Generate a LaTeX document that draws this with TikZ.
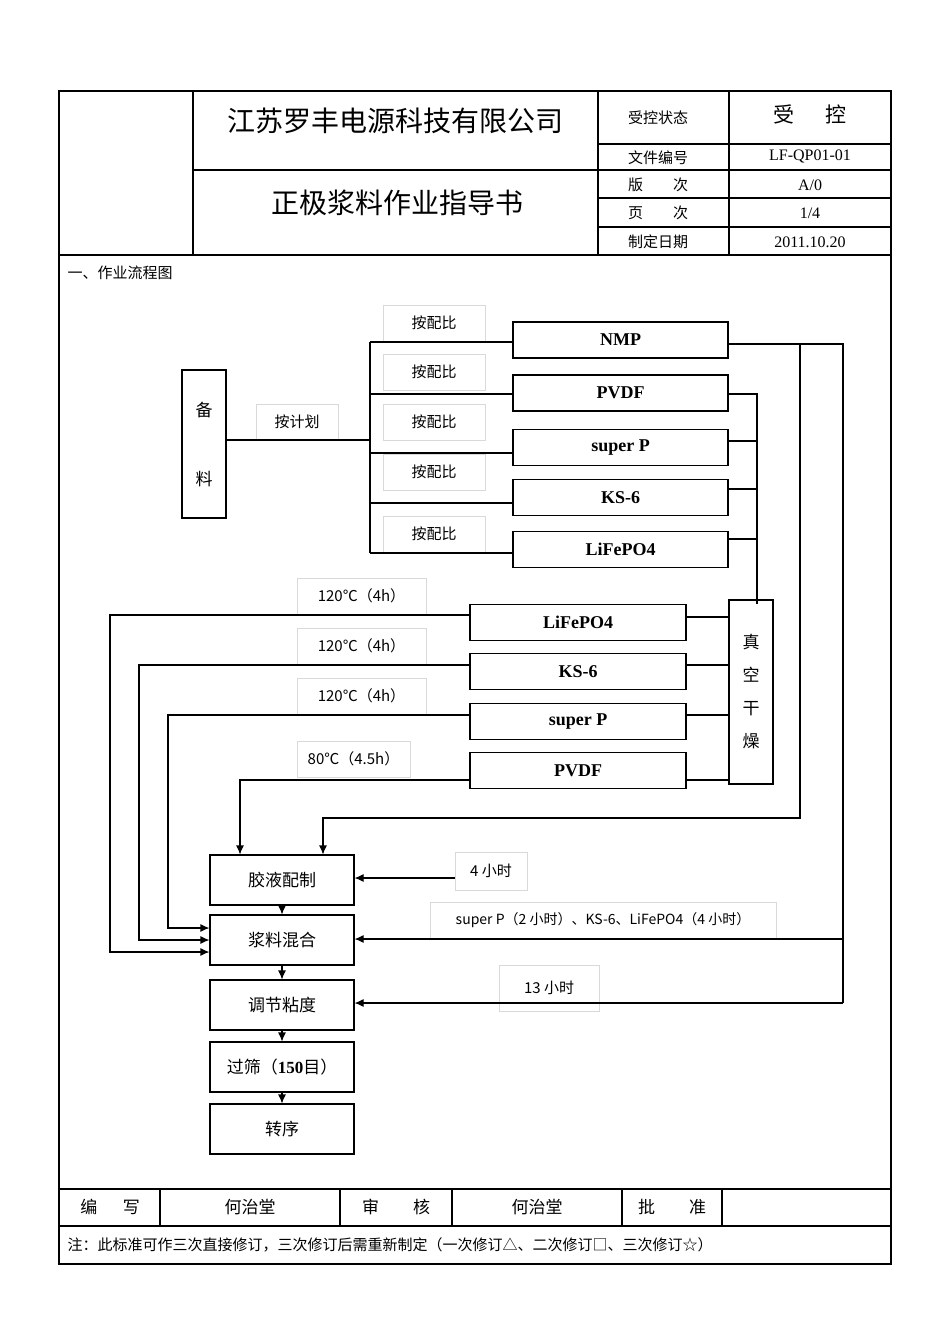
\documentclass[tikz,border=0pt]{standalone}
\usepackage{fontspec}
\setmainfont{Liberation Serif}
\newfontfamily\cjk{Noto Sans CJK SC}[Scale=1]
\usetikzlibrary{arrows.meta}
\begin{document}
\begin{tikzpicture}[x=1pt,y=-1pt,
  box/.style={draw,line width=1.1pt,minimum height=36pt,font=\fontsize{18}{18}\selectfont\bfseries,inner sep=0},
  sbox/.style={draw,line width=1.1pt,minimum width=144pt,minimum height=50pt,font=\cjk\fontsize{17}{17}\selectfont,inner sep=0},
  lab/.style={draw=black!15,line width=0.6pt,font=\cjk\fontsize{15}{15}\selectfont,inner sep=0},
  ln/.style={line width=1.1pt},
  ar/.style={line width=1.1pt,-{Latex[length=9pt,width=8pt]}},
  hd/.style={font=\cjk\fontsize{15}{15}\selectfont},
  hdl/.style={font=\fontsize{16}{16}\selectfont}]
\useasboundingbox (0,0) rectangle (950,1344);
% header frame
\draw[line width=1.4pt] (59,91) rectangle (891,1264);
\draw[line width=1.2pt] (59,255) -- (891,255);
\draw[ln] (193,91) -- (193,255);
\draw[ln] (598,91) -- (598,255);
\draw[ln] (729,91) -- (729,255);
\draw[ln] (193,170) -- (598,170);
\draw[ln] (598,144) -- (891,144);
\draw[line width=1.6pt] (598,170) -- (891,170);
\draw[line width=1.6pt] (598,198) -- (891,198);
\draw[ln] (598,227) -- (891,227);
\node[font=\cjk\fontsize{28}{28}\selectfont] (t1) at (395,121) {江苏罗丰电源科技有限公司};
\node[font=\cjk\fontsize{28}{28}\selectfont] (t2) at (397,203) {正极浆料作业指导书};
\node[hd] (h1) at (658,118) {受控状态};
\node[font=\cjk\fontsize{21}{21}\selectfont] (h1v) at (810,114) {受\hspace{1.5em}控};
\node[hd] (h2) at (658,158) {文件编号};
\node[hdl] (h2v) at (810,156) {LF-QP01-01};
\node[hd] (h3) at (658,185) {版\hspace{2em}次};
\node[hdl] (h3v) at (810,185) {A/0};
\node[hd] (h4) at (658,213) {页\hspace{2em}次};
\node[hdl] (h4v) at (810,213) {1/4};
\node[hd] (h5) at (658,242) {制定日期};
\node[hdl] (h5v) at (810,242) {2011.10.20};
\node[hd,anchor=west] (sec) at (64,273) {一、作业流程图};
% footer
\draw[line width=1.4pt] (59,1189) -- (891,1189);
\draw[ln] (59,1226) -- (891,1226);
\foreach \x in {160,340,452,622,722} \draw[ln] (\x,1189) -- (\x,1226);
\node[font=\cjk\fontsize{17}{17}\selectfont] (f1) at (110,1207) {编\hspace{1.5em}写};
\node[font=\cjk\fontsize{17}{17}\selectfont] (f2) at (250,1207) {何治堂};
\node[font=\cjk\fontsize{17}{17}\selectfont] (f3) at (396,1207) {审\hspace{2em}核};
\node[font=\cjk\fontsize{17}{17}\selectfont] (f4) at (537,1207) {何治堂};
\node[font=\cjk\fontsize{17}{17}\selectfont] (f5) at (672,1207) {批\hspace{2em}准};
\node[hd,anchor=west] (note) at (64,1245) {注：此标准可作三次直接修订，三次修订后需重新制定（一次修订△、二次修订□、三次修订☆）};
% left stage
\node[draw,line width=1.1pt,minimum width=44pt,minimum height=148pt,inner sep=0,font=\cjk\fontsize{17}{17}\selectfont,align=center] (bl) at (204,444) {备\\[52pt]料};
\node[lab,minimum width=82pt,minimum height=36pt] (jh) at (297,422) {按计划};
\coordinate (v0) at (370,440);
\draw[ln] (bl.east |- v0) -- (v0);
\draw[ln] (370,342) -- (370,553);
\foreach \y in {323,372,422,472,534} \node[lab,minimum width=102pt,minimum height=36pt] at (434,\y) {按配比};
\node[box,minimum width=215pt] (a1) at (620.5,340) {NMP};
\node[box,minimum width=215pt] (a2) at (620.5,393) {PVDF};
\node[box,minimum width=215pt] (a3) at (620.5,447.5) {super P};
\node[box,minimum width=215pt] (a4) at (620.5,497.5) {KS-6};
\node[box,minimum width=215pt] (a5) at (620.5,549.5) {LiFePO4};
\draw[ln] (370,342) -- (a1.west |- 0,342);
\draw[ln] (370,394) -- (a2.west |- 0,394);
\draw[ln] (370,453) -- (a3.west |- 0,453);
\draw[ln] (370,503) -- (a4.west |- 0,503);
\draw[ln] (370,553) -- (a5.west |- 0,553);
% vacuum dryer
\node[draw,line width=1.1pt,minimum width=44pt,minimum height=184pt,inner sep=0,font=\cjk\fontsize{17}{17}\selectfont,align=center] (vd) at (751,692) {真\\[16pt]空\\[16pt]干\\[16pt]燥};
\draw[ln] (a2.east |- 0,394) -- (757,394) -- (757,604);
\draw[ln] (a3.east |- 0,441) -- (757,441);
\draw[ln] (a4.east |- 0,489) -- (757,489);
\draw[ln] (a5.east |- 0,539) -- (757,539);
\node[box,minimum width=216pt] (b1) at (578,622.5) {LiFePO4};
\node[box,minimum width=216pt] (b2) at (578,671.5) {KS-6};
\node[box,minimum width=216pt] (b3) at (578,721.5) {super P};
\node[box,minimum width=216pt] (b4) at (578,770.5) {PVDF};
\foreach \b/\y in {b1/617,b2/665,b3/715,b4/780} \draw[ln] (\b.east |- 0,\y) -- (vd.west |- 0,\y);
\node[lab,minimum width=129pt,minimum height=36pt] at (361.5,596) {120℃（4h）};
\node[lab,minimum width=129pt,minimum height=36pt] at (361.5,646) {120℃（4h）};
\node[lab,minimum width=129pt,minimum height=36pt] at (361.5,696) {120℃（4h）};
\node[lab,minimum width=113pt,minimum height=36pt] at (353.5,759) {80℃（4.5h）};
% bottom chain
\node[sbox] (c1) at (282,880) {胶液配制};
\node[sbox] (c2) at (282,940) {浆料混合};
\node[sbox] (c3) at (282,1005) {调节粘度};
\node[sbox] (c4) at (282,1067) {过筛（{\rmfamily\bfseries 150}目）};
\node[sbox] (c5) at (282,1129) {转序};
\draw[ar] (c1) -- (c2);
\draw[ar] (c2) -- (c3);
\draw[ar] (c3) -- (c4);
\draw[ar] (c4) -- (c5);
\draw[ar] (b1.west |- 0,615) -- (110,615) -- (110,952) -- (c2.west |- 0,952);
\draw[ar] (b2.west |- 0,665) -- (139,665) -- (139,940) -- (c2.west |- 0,940);
\draw[ar] (b3.west |- 0,715) -- (168,715) -- (168,928) -- (c2.west |- 0,928);
\coordinate (p240) at (240,0);
\draw[ar] (b4.west |- 0,780) -- (240,780) -- (p240 |- c1.north);
% NMP route
\draw[ln] (a1.east |- 0,344) -- (843,344) -- (843,1003);
\coordinate (p323) at (323,0);
\draw[ar] (800,344) -- (800,818) -- (323,818) -- (p323 |- c1.north);
\node[lab,minimum width=72pt,minimum height=38pt] (l4) at (491,871) {4 小时};
\draw[ar] (l4.west |- 0,878) -- (c1.east |- 0,878);
\node[lab,font=\cjk\fontsize{14}{14}\selectfont,minimum width=346pt,minimum height=36pt] (lsp) at (603,920) {super P（2 小时）、KS-6、LiFePO4（4 小时）};
\draw[ar] (843,939) -- (c2.east |- 0,939);
\node[lab,minimum width=100pt,minimum height=46pt] (l13) at (549,988) {13 小时};
\draw[ar] (843,1003) -- (c3.east |- 0,1003);
\end{tikzpicture}
\end{document}
